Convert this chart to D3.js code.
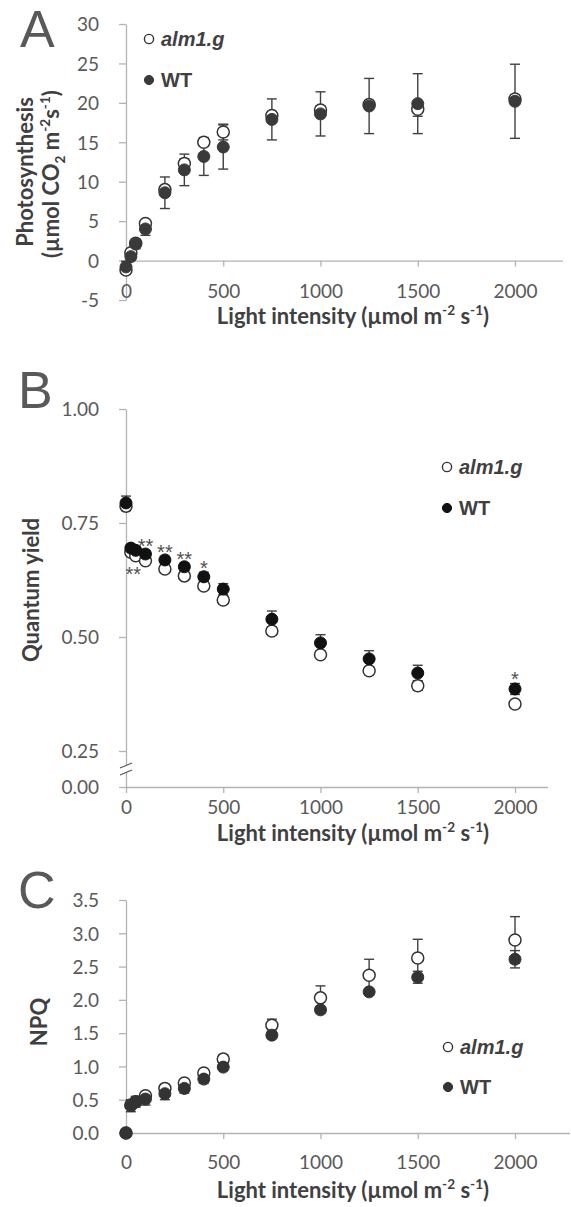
<!DOCTYPE html>
<html><head><meta charset="utf-8">
<script src="https://cdn.jsdelivr.net/npm/d3@7"></script>
<style>
html,body{margin:0;padding:0;background:#fff;}
svg{display:block;}
</style></head><body>
<svg id="chart" width="571" height="1207"></svg>
<script>
// ---------- DATA ----------
const lightLevels = [0, 25, 50, 100, 200, 300, 400, 500, 750, 1000, 1250, 1500, 2000];
const xTickValues = [0, 500, 1000, 1500, 2000];

// Panel A: photosynthesis
const photoAlm    = [-1.2, 1.0, 2.2, 4.7, 9.0, 12.3, 15.0, 16.3, 18.4, 19.1, 19.8, 19.2, 20.5];
const photoAlmErr = [0.4, 0.3, 0.3, 0.3, 0.5, 0.6, 0.5, 1.0, 0.5, 0.5, 0.5, 0.9, 0.5];
const photoWT     = [-0.8, 0.5, 2.1, 4.0, 8.6, 11.5, 13.2, 14.4, 17.9, 18.6, 19.6, 19.9, 20.2];
const photoWTErr  = [0.7, 0.4, 0.6, 0.8, 2.0, 2.0, 2.4, 2.8, 2.6, 2.8, 3.5, 3.8, 4.7];
const photoTicks  = [-5, 0, 5, 10, 15, 20, 25, 30];

// Panel B: quantum yield
const qyAlm    = [0.787, 0.686, 0.678, 0.667, 0.649, 0.634, 0.612, 0.581, 0.513, 0.461, 0.426, 0.393, 0.353];
const qyAlmErr = [0.010, 0.006, 0.006, 0.006, 0.006, 0.006, 0.006, 0.008, 0.008, 0.006, 0.008, 0.010, 0.007];
const qyWT     = [0.794, 0.695, 0.690, 0.682, 0.669, 0.654, 0.632, 0.605, 0.539, 0.487, 0.452, 0.421, 0.386];
const qyWTErr  = [0.015, 0.008, 0.008, 0.008, 0.008, 0.008, 0.010, 0.012, 0.018, 0.018, 0.018, 0.017, 0.012];
const qyTicks  = [0.00, 0.25, 0.50, 0.75, 1.00];
const qySignif = [
  {x: 37.5, label: "**", side: "below"},
  {x: 100,  label: "**", side: "above"},
  {x: 200,  label: "**", side: "above"},
  {x: 300,  label: "**", side: "above"},
  {x: 400,  label: "*",  side: "above"},
  {x: 2000, label: "*",  side: "above"}
];

// Panel C: NPQ
const npqAlm    = [0.0, 0.42, 0.47, 0.56, 0.67, 0.75, 0.90, 1.11, 1.62, 2.03, 2.37, 2.63, 2.90];
const npqAlmErr = [0.01, 0.05, 0.05, 0.05, 0.05, 0.05, 0.05, 0.06, 0.09, 0.18, 0.24, 0.28, 0.35];
const npqWT     = [0.0, 0.41, 0.47, 0.51, 0.59, 0.67, 0.81, 0.99, 1.47, 1.85, 2.12, 2.34, 2.61];
const npqWTErr  = [0.01, 0.09, 0.08, 0.09, 0.09, 0.07, 0.06, 0.05, 0.05, 0.05, 0.05, 0.09, 0.13];
const npqTicks  = [0, 0.5, 1.0, 1.5, 2.0, 2.5, 3.0, 3.5];

const seriesNames = ["alm1.g", "WT"];

// ---------- STYLE ----------
const axisColor = "#b3b3b3";
const tickColor = "#595959";
const titleColor = "#404040";
const tickFont = "19px Lato";
const titleFont = "bold 22px Lato";

const svg = d3.select("#chart");
const x = d3.scaleLinear().domain([0, 2000]).range([126, 515]);

function addText(g, parts, fs) {
  let shift = 0;
  parts.forEach(([t, kind]) => {
    const ts = g.append("tspan").text(t);
    let target = 0;
    if (kind === "sup") { target = -0.4 * fs; ts.attr("font-size", fs * 0.62); }
    else if (kind === "sub") { target = 0.25 * fs; ts.attr("font-size", fs * 0.62); }
    ts.attr("dy", target - shift);
    shift = target;
  });
}

function drawPanel(cfg) {
  const g = svg.append("g");
  const y = cfg.y;
  const gy = g.append("g").attr("transform", `translate(126,0)`)
    .call(d3.axisLeft(y).tickValues(cfg.yTicks).tickFormat(cfg.yFmt).tickSize(7).tickPadding(20).tickSizeOuter(0));
  gy.select(".domain").attr("stroke", axisColor).attr("stroke-width", 1.3);
  gy.selectAll(".tick line").attr("stroke", axisColor).attr("stroke-width", 1.3);
  gy.selectAll(".tick text").attr("fill", tickColor).style("font", tickFont).attr("dy", "0.36em");

  const xAxisY = y(cfg.xAxisAt);
  const gx = g.append("g").attr("transform", `translate(0,${xAxisY})`)
    .call(d3.axisBottom(x).tickValues(xTickValues).tickFormat(d3.format("d")).tickSize(6).tickPadding(cfg.xPad).tickSizeOuter(0));
  gx.select(".domain").remove();
  gx.append("line").attr("x1", 126).attr("x2", cfg.xEnd).attr("y1", 0.5).attr("y2", 0.5)
    .attr("stroke", axisColor).attr("stroke-width", 1.3);
  gx.selectAll(".tick line").attr("stroke", axisColor).attr("stroke-width", 1.3);
  gx.selectAll(".tick text").attr("fill", tickColor).style("font", tickFont);

  const xt = g.append("text").attr("x", 353).attr("y", xAxisY + cfg.xTitleOff)
    .attr("text-anchor", "middle").attr("fill", titleColor).style("font", titleFont);
  addText(xt, [["Light intensity (µmol m", null], ["-2", "sup"], [" s", null], ["-1", "sup"], [")", null]], 22);

  cfg.yTitles.forEach(t => {
    const yt = g.append("text").attr("transform", `translate(${t.x},${t.y}) rotate(-90)`)
      .attr("text-anchor", "middle").attr("fill", titleColor).style("font", titleFont);
    addText(yt, t.parts, 22);
  });

  g.append("text").attr("x", cfg.letter.x).attr("y", cfg.letter.y).text(cfg.letter.t)
    .attr("fill", "#595959").style("font", "52px 'Liberation Sans'");

  const series = [
    {vals: cfg.alm, err: cfg.almErr, open: true},
    {vals: cfg.wt, err: cfg.wtErr, open: false}
  ];
  const eb = g.append("g").attr("stroke", "#404040").attr("stroke-width", 1.4);
  series.forEach(s => {
    lightLevels.forEach((lx, i) => {
      const cx = x(lx), y1 = y(s.vals[i] - s.err[i]), y2 = y(s.vals[i] + s.err[i]);
      eb.append("line").attr("x1", cx).attr("x2", cx).attr("y1", y1).attr("y2", y2);
      eb.append("line").attr("x1", cx - 5).attr("x2", cx + 5).attr("y1", y1).attr("y2", y1);
      eb.append("line").attr("x1", cx - 5).attr("x2", cx + 5).attr("y1", y2).attr("y2", y2);
    });
  });
  series.forEach(s => {
    g.append("g").selectAll("circle").data(lightLevels).join("circle")
      .attr("cx", d => x(d)).attr("cy", (d, i) => y(s.vals[i])).attr("r", 6)
      .attr("fill", s.open ? "#fff" : cfg.dotColor)
      .attr("stroke", s.open ? "#333" : cfg.dotColor).attr("stroke-width", s.open ? 1.5 : 1);
  });

  const lg = g.append("g");
  seriesNames.forEach((name, i) => {
    const ly = cfg.legend.y[i];
    lg.append("circle").attr("cx", cfg.legend.x).attr("cy", ly).attr("r", 4.6)
      .attr("fill", i === 0 ? "#fff" : cfg.dotColor).attr("stroke", i === 0 ? "#333" : cfg.dotColor)
      .attr("stroke-width", i === 0 ? 1.4 : 1);
    lg.append("text").attr("x", cfg.legend.x + 12).attr("y", ly + 7).text(name)
      .attr("fill", titleColor)
      .style("font", (i === 0 ? "italic " : "") + "bold 20px 'Liberation Sans'");
  });
  return g;
}

// Panel A
const yA = d3.scaleLinear().domain([-5, 30]).range([300, 24]);
drawPanel({
  y: yA, yTicks: photoTicks, yFmt: d => String(d), xAxisAt: 0, xEnd: 563, xPad: 18, xTitleOff: 63,
  alm: photoAlm, almErr: photoAlmErr, wt: photoWT, wtErr: photoWTErr, dotColor: "#3a3a3a",
  yTitles: [
    {x: 33, y: 172, parts: [["Photosynthesis", null]]},
    {x: 59, y: 174, parts: [["(µmol CO", null], ["2", "sub"], [" m", null], ["-2", "sup"], ["s", null], ["-1", "sup"], [")", null]]}
  ],
  letter: {x: 20, y: 47, t: "A"},
  legend: {x: 149, y: [39, 80]}
});

// Panel B (broken axis)
const yB = d3.scaleLinear().domain([0, 0.25, 1]).range([787, 751, 409]);
const gB = drawPanel({
  y: yB, yTicks: qyTicks, yFmt: d3.format(".2f"), xAxisAt: 0, xEnd: 548, xPad: 8, xTitleOff: 54,
  alm: qyAlm, almErr: qyAlmErr, wt: qyWT, wtErr: qyWTErr, dotColor: "#111",
  yTitles: [{x: 39, y: 590, parts: [["Quantum yield", null]]}],
  letter: {x: 18, y: 408, t: "B"},
  legend: {x: 447, y: [467, 508]}
});
gB.append("rect").attr("x", 120).attr("y", 765).attr("width", 12).attr("height", 8).attr("fill", "#fff");
gB.append("line").attr("x1", 120).attr("y1", 768).attr("x2", 132).attr("y2", 763).attr("stroke", "#555").attr("stroke-width", 1.2);
gB.append("line").attr("x1", 120).attr("y1", 775).attr("x2", 132).attr("y2", 770).attr("stroke", "#555").attr("stroke-width", 1.2);
qySignif.forEach(s => {
  let cy;
  if (s.side === "above") {
    const i = lightLevels.indexOf(s.x);
    cy = yB(qyWT[i] + qyWTErr[i]) - 9;
  } else {
    const lows = [1, 2].map(i => qyAlm[i] - qyAlmErr[i]);
    cy = yB(Math.min(...lows)) + 11;
  }
  gB.append("text").attr("x", x(s.x)).attr("y", cy + 11.5).attr("text-anchor", "middle")
    .text(s.label).attr("fill", "#505050").style("font", "20px 'Liberation Sans'");
});

// Panel C
const yC = d3.scaleLinear().domain([0, 3.5]).range([1133, 900]);
drawPanel({
  y: yC, yTicks: npqTicks, yFmt: d3.format(".1f"), xAxisAt: 0, xEnd: 570, xPad: 17, xTitleOff: 65,
  alm: npqAlm, almErr: npqAlmErr, wt: npqWT, wtErr: npqWTErr, dotColor: "#333",
  yTitles: [{x: 47, y: 1022, parts: [["NPQ", null]]}],
  letter: {x: 18, y: 908, t: "C"},
  legend: {x: 448, y: [1047, 1087]}
});
</script>
</body></html>
